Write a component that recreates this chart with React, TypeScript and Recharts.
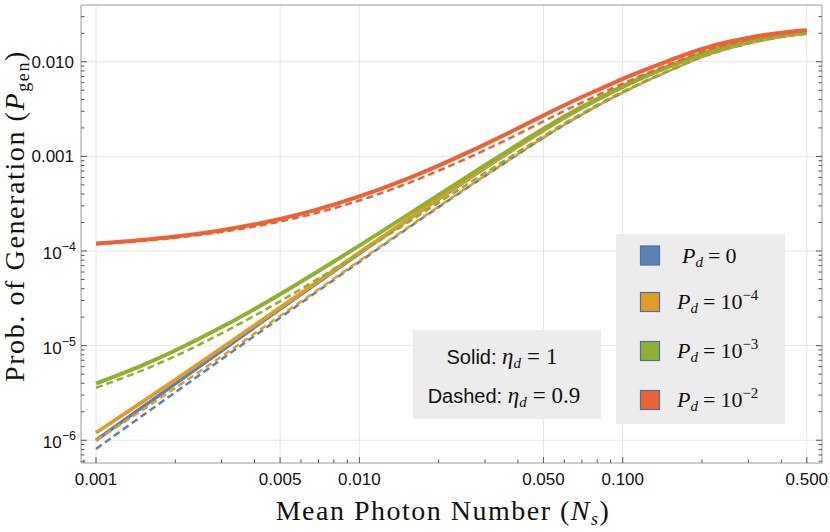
import React from 'react'
import { LineChart, Line, XAxis, YAxis, ReferenceLine } from 'recharts'

// mean photon number N_s
const NS = [0.001, 0.0015, 0.002, 0.003, 0.005, 0.007, 0.01, 0.015, 0.02, 0.03, 0.04, 0.05, 0.06, 0.07, 0.08, 0.1, 0.12, 0.15, 0.2, 0.25, 0.3, 0.35, 0.4, 0.45, 0.5]

// solid: eta_d = 1
const SOLID_PD0 = [1.0e-6, 2.23e-6, 3.95e-6, 8.84e-6, 2.43e-5, 4.7e-5, 9.42e-5, 2.06e-4, 3.55e-4, 7.54e-4, 1.27e-3, 1.88e-3, 2.55e-3, 3.25e-3, 3.95e-3, 5.4e-3, 6.85e-3, 8.9e-3, 0.0121, 0.0146, 0.0164, 0.0178, 0.0189, 0.0196, 0.0201]
const SOLID_PD4 = [1.2e-6, 2.54e-6, 4.36e-6, 9.44e-6, 2.52e-5, 4.83e-5, 9.61e-5, 2.09e-4, 3.59e-4, 7.59e-4, 1.276e-3, 1.888e-3, 2.56e-3, 3.26e-3, 3.96e-3, 5.41e-3, 6.86e-3, 8.91e-3, 0.01212, 0.01462, 0.01642, 0.01782, 0.01892, 0.01962, 0.02012]
const SOLID_PD3 = [3.98e-6, 6.19e-6, 8.89e-6, 1.57e-5, 3.49e-5, 6.14e-5, 1.14e-4, 2.34e-4, 3.92e-4, 8.05e-4, 1.334e-3, 1.956e-3, 2.64e-3, 3.34e-3, 4.05e-3, 5.51e-3, 6.97e-3, 9.02e-3, 0.01222, 0.01472, 0.01651, 0.0179, 0.01899, 0.01969, 0.02018]
const SOLID_PD2 = [1.2e-4, 1.31e-4, 1.42e-4, 1.66e-4, 2.18e-4, 2.77e-4, 3.77e-4, 5.72e-4, 8.0e-4, 1.34e-3, 1.98e-3, 2.71e-3, 3.47e-3, 4.24e-3, 5.0e-3, 6.6e-3, 8.1e-3, 1.03e-2, 0.0137, 0.0162, 0.0179, 0.0193, 0.0203, 0.021, 0.0215]

// dashed: eta_d = 0.9
const DASH_PD0 = [8.1e-7, 1.82e-6, 3.21e-6, 7.19e-6, 1.97e-5, 3.82e-5, 7.68e-5, 1.68e-4, 2.91e-4, 6.21e-4, 1.05e-3, 1.57e-3, 2.15e-3, 2.76e-3, 3.4e-3, 4.72e-3, 6.05e-3, 8.0e-3, 0.0112, 0.0137, 0.0156, 0.0171, 0.0183, 0.0192, 0.0198]
const DASH_PD4 = [9.95e-7, 2.09e-6, 3.57e-6, 7.71e-6, 2.06e-5, 3.94e-5, 7.85e-5, 1.71e-4, 2.95e-4, 6.26e-4, 1.056e-3, 1.577e-3, 2.158e-3, 2.766e-3, 3.41e-3, 4.73e-3, 6.06e-3, 8.01e-3, 0.01121, 0.01371, 0.01561, 0.01711, 0.01831, 0.01921, 0.01981]
const DASH_PD3 = [3.59e-6, 5.48e-6, 7.75e-6, 1.35e-5, 2.94e-5, 5.13e-5, 9.48e-5, 1.94e-4, 3.25e-4, 6.68e-4, 1.109e-3, 1.641e-3, 2.23e-3, 2.848e-3, 3.495e-3, 4.825e-3, 6.16e-3, 8.12e-3, 0.01132, 0.01382, 0.01572, 0.01721, 0.0184, 0.01929, 0.01989]
const DASH_PD2 = [1.18e-4, 1.28e-4, 1.38e-4, 1.59e-4, 2.05e-4, 2.56e-4, 3.42e-4, 5.1e-4, 7.05e-4, 1.166e-3, 1.714e-3, 2.345e-3, 3.02e-3, 3.706e-3, 4.41e-3, 5.88e-3, 7.3e-3, 9.35e-3, 0.0128, 0.0153, 0.0172, 0.0187, 0.0198, 0.0206, 0.0211]

const X_MAJOR = [0.001, 0.005, 0.01, 0.05, 0.1, 0.5]
const X_MAJOR_LABELS = ['0.001', '0.005', '0.010', '0.050', '0.100', '0.500']
const X_MINOR = [0.0009, 0.002, 0.003, 0.004, 0.006, 0.007, 0.008, 0.009, 0.02, 0.03, 0.04, 0.06, 0.07, 0.08, 0.09, 0.2, 0.3, 0.4]

const Y_MAJOR = [1e-6, 1e-5, 1e-4, 0.001, 0.01]
const Y_MAJOR_LABELS = [['10', '−6'], ['10', '−5'], ['10', '−4'], ['0.001', ''], ['0.010', '']]
const Y_MINOR = [
  6e-7, 7e-7, 8e-7, 9e-7,
  2e-6, 3e-6, 4e-6, 5e-6, 6e-6, 7e-6, 8e-6, 9e-6,
  2e-5, 3e-5, 4e-5, 5e-5, 6e-5, 7e-5, 8e-5, 9e-5,
  2e-4, 3e-4, 4e-4, 5e-4, 6e-4, 7e-4, 8e-4, 9e-4,
  0.002, 0.003, 0.004, 0.005, 0.006, 0.007, 0.008, 0.009,
  0.02, 0.03,
]

const LEGEND_LABELS = [['0', ''], ['10', '−4'], ['10', '−3'], ['10', '−2']]

const COLORS = ['#5E81B5', '#E19C24', '#8FB032', '#EB6235']

const data = NS.map((n, i) => ({
  n,
  s0: SOLID_PD0[i],
  s4: SOLID_PD4[i],
  s3: SOLID_PD3[i],
  s2: SOLID_PD2[i],
  d0: DASH_PD0[i],
  d4: DASH_PD4[i],
  d3: DASH_PD3[i],
  d2: DASH_PD2[i],
}))

const X_TICKS = [...X_MAJOR, ...X_MINOR].sort((a, b) => a - b)
const Y_TICKS = [...Y_MAJOR, ...Y_MINOR].sort((a, b) => a - b)
const X_DOMAIN = [0.000877, 0.571]
const Y_DOMAIN = [5.75e-7, 0.0398]

const TICK_COLOR = '#555'
const FRAME_COLOR = '#9a9a9a'
const GRID_COLOR = '#e6e6e6'
const SANS = '"Liberation Sans", Arial, sans-serif'
const SERIF = '"Liberation Serif", "Times New Roman", serif'

const BottomTick = (props: any) => {
  const { x, y, payload } = props
  const idx = X_MAJOR.indexOf(payload.value)
  const major = idx >= 0
  return (
    <g>
      <line x1={x} x2={x} y1={y} y2={y - (major ? 6 : 3.5)} stroke={TICK_COLOR} strokeWidth={1} />
      {major && (
        <text x={x} y={y + 22} textAnchor="middle" fontFamily={SANS} fontSize={17} fill="#111">
          {X_MAJOR_LABELS[idx]}
        </text>
      )}
    </g>
  )
}

const TopTick = (props: any) => {
  const { x, y, payload } = props
  const major = X_MAJOR.indexOf(payload.value) >= 0
  return <line x1={x} x2={x} y1={y} y2={y + (major ? 6 : 3.5)} stroke={TICK_COLOR} strokeWidth={1} />
}

const LeftTick = (props: any) => {
  const { x, y, payload } = props
  const idx = Y_MAJOR.indexOf(payload.value)
  const major = idx >= 0
  return (
    <g>
      <line x1={x} x2={x + (major ? 6 : 3.5)} y1={y} y2={y} stroke={TICK_COLOR} strokeWidth={1} />
      {major && Y_MAJOR_LABELS[idx][1] === '' && (
        <text x={x - 7} y={y + 6} textAnchor="end" fontFamily={SANS} fontSize={17} fill="#111">
          {Y_MAJOR_LABELS[idx][0]}
        </text>
      )}
      {major && Y_MAJOR_LABELS[idx][1] !== '' && (
        <text x={x - 5} y={y + 8} textAnchor="end" fontFamily={SANS} fontSize={17} fill="#111">
          {Y_MAJOR_LABELS[idx][0]}
          <tspan dy={-8} fontSize={12.5}>{Y_MAJOR_LABELS[idx][1]}</tspan>
        </text>
      )}
    </g>
  )
}

const RightTick = (props: any) => {
  const { x, y, payload } = props
  const major = Y_MAJOR.indexOf(payload.value) >= 0
  return <line x1={x} x2={x - (major ? 6 : 3.5)} y1={y} y2={y} stroke={TICK_COLOR} strokeWidth={1} />
}

const Overlay = () => (
  <svg width={830} height={532} style={{ position: 'absolute', left: 0, top: 0, pointerEvents: 'none' }}>
    {/* axis titles */}
    <text x={443} y={520} textAnchor="middle" fontFamily={SERIF} fontSize={28} letterSpacing={1.5} fill="#111">
      Mean Photon Number (<tspan fontStyle="italic">N</tspan>
      <tspan dy={5} fontSize={18} fontStyle="italic">s</tspan>
      <tspan dy={-5}>)</tspan>
    </text>
    <text
      transform="translate(24,216) rotate(-90)"
      textAnchor="middle"
      fontFamily={SERIF}
      fontSize={28}
      letterSpacing={1.6}
      fill="#111"
    >
      Prob. of Generation (<tspan fontStyle="italic">P</tspan>
      <tspan dy={5} fontSize={18}>gen</tspan>
      <tspan dy={-5}>)</tspan>
    </text>

    {/* eta note */}
    <rect x={413} y={330} width={188} height={89} fill="#ececec" />
    <text x={502} y={364} textAnchor="middle" fontFamily={SANS} fontSize={20} fill="#111">
      Solid:{' '}
      <tspan fontFamily={SERIF} fontStyle="italic" fontSize={23}>η</tspan>
      <tspan fontFamily={SERIF} fontStyle="italic" fontSize={15} dy={4}>d</tspan>
      <tspan fontFamily={SERIF} fontSize={23} dy={-4} dx={6}>=</tspan>
      <tspan fontFamily={SERIF} fontSize={23} dx={6}>1</tspan>
    </text>
    <text x={504} y={403} textAnchor="middle" fontFamily={SANS} fontSize={20} fill="#111">
      Dashed:{' '}
      <tspan fontFamily={SERIF} fontStyle="italic" fontSize={23}>η</tspan>
      <tspan fontFamily={SERIF} fontStyle="italic" fontSize={15} dy={4}>d</tspan>
      <tspan fontFamily={SERIF} fontSize={23} dy={-4} dx={6}>=</tspan>
      <tspan fontFamily={SERIF} fontSize={23} dx={6}>0.9</tspan>
    </text>

    {/* P_d legend */}
    <rect x={616} y={234} width={169} height={190} fill="#ececec" />
    {LEGEND_LABELS.map((lab, i) => {
      const cy = [255.5, 302, 351, 400][i]
      return (
        <g key={i}>
          <rect x={640.5} y={cy - 9.5} width={19} height={19} fill={COLORS[i]} stroke="#4f6ea3" strokeWidth={1.2} />
          <text x={i === 0 ? 682 : 677} y={cy + 7} fontFamily={SERIF} fontSize={22} fill="#111">
            <tspan fontStyle="italic">P</tspan>
            <tspan fontStyle="italic" fontSize={15} dy={4}>d</tspan>
            <tspan dy={-4} dx={5}>=</tspan>
            <tspan dx={5}>{lab[0]}</tspan>
            {lab[1] !== '' && (
              <tspan dy={-9} fontSize={15}>{lab[1]}</tspan>
            )}
          </text>
        </g>
      )
    })}
  </svg>
)

export default function App() {
  return (
    <div style={{ position: 'relative', width: 830, height: 532, background: '#fff' }}>
      <style>{'body{margin:0}'}</style>
      <LineChart width={830} height={532} data={data} margin={{ top: 4, right: 7, bottom: 0, left: 0 }}>
        <XAxis
          dataKey="n"
          type="number"
          scale="log"
          domain={X_DOMAIN}
          allowDataOverflow
          ticks={X_TICKS}
          interval={0}
          tick={<BottomTick />}
          tickSize={0}
          tickMargin={0}
          tickLine={false}
          axisLine={{ stroke: FRAME_COLOR }}
          height={69}
        />
        <XAxis
          xAxisId="top"
          orientation="top"
          type="number"
          scale="log"
          domain={X_DOMAIN}
          allowDataOverflow
          ticks={X_TICKS}
          interval={0}
          tick={<TopTick />}
          tickSize={0}
          tickMargin={0}
          tickLine={false}
          axisLine={{ stroke: FRAME_COLOR }}
          height={1}
        />
        <YAxis
          type="number"
          scale="log"
          domain={Y_DOMAIN}
          allowDataOverflow
          ticks={Y_TICKS}
          interval={0}
          tick={<LeftTick />}
          tickSize={0}
          tickMargin={0}
          tickLine={false}
          axisLine={{ stroke: FRAME_COLOR }}
          width={81}
        />
        <YAxis
          yAxisId="right"
          orientation="right"
          type="number"
          scale="log"
          domain={Y_DOMAIN}
          allowDataOverflow
          ticks={Y_TICKS}
          interval={0}
          tick={<RightTick />}
          tickSize={0}
          tickMargin={0}
          tickLine={false}
          axisLine={{ stroke: FRAME_COLOR }}
          width={1}
        />
        {X_MAJOR.map((v) => (
          <ReferenceLine key={'gx' + v} x={v} stroke={GRID_COLOR} strokeWidth={1} />
        ))}
        {Y_MAJOR.map((v) => (
          <ReferenceLine key={'gy' + v} y={v} stroke={GRID_COLOR} strokeWidth={1} />
        ))}
        <Line dataKey="s0" type="monotone" stroke={COLORS[0]} strokeWidth={3.5} dot={false} isAnimationActive={false} />
        <Line dataKey="s4" type="monotone" stroke={COLORS[1]} strokeWidth={3.8} dot={false} isAnimationActive={false} />
        <Line dataKey="s3" type="monotone" stroke={COLORS[2]} strokeWidth={4} dot={false} isAnimationActive={false} />
        <Line dataKey="s2" type="monotone" stroke={COLORS[3]} strokeWidth={4} dot={false} isAnimationActive={false} />
        <Line dataKey="d0" type="monotone" stroke={COLORS[0]} strokeWidth={2.5} strokeDasharray="7 4" dot={false} isAnimationActive={false} />
        <Line dataKey="d4" type="monotone" stroke={COLORS[1]} strokeWidth={2.5} strokeDasharray="7 4" dot={false} isAnimationActive={false} />
        <Line dataKey="d3" type="monotone" stroke={COLORS[2]} strokeWidth={2.5} strokeDasharray="7 4" dot={false} isAnimationActive={false} />
        <Line dataKey="d2" type="monotone" stroke={COLORS[3]} strokeWidth={2.5} strokeDasharray="7 4" dot={false} isAnimationActive={false} />
      </LineChart>
      <Overlay />
    </div>
  )
}
